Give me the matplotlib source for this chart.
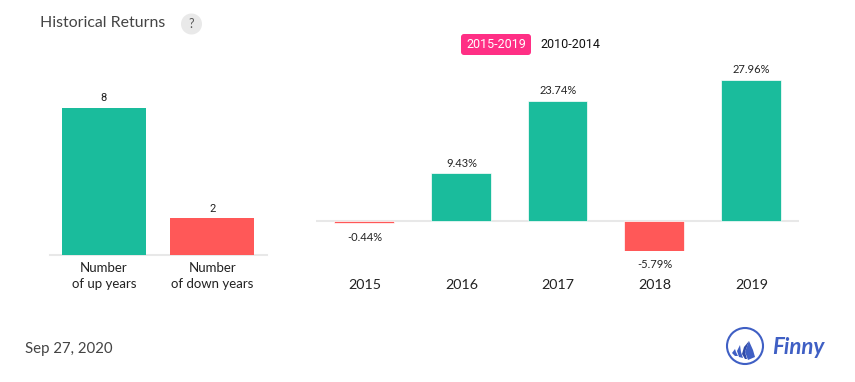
import matplotlib
matplotlib.use('Agg')
import matplotlib.pyplot as plt
from matplotlib.patches import Circle, FancyBboxPatch, Polygon

plt.rcParams['font.family'] = ['Lato', 'DejaVu Sans']

count_labels = ['Number\nof up years', 'Number\nof down years']
count_values = [8, 2]
years = ['2015', '2016', '2017', '2018', '2019']
returns = [-0.44, 9.43, 23.74, -5.79, 27.96]

GREEN = '#1abc9c'
RED = '#ff5858'
BLUE = '#3f5fc4'
W, H = 855, 382


def bar_color(v):
    return GREEN if v > 0 else RED


def make_axes(left, right, top, bottom):
    return fig.add_axes([left / W, 1 - bottom / H, (right - left) / W, (bottom - top) / H])


fig = plt.figure(figsize=(W / 100, H / 100), dpi=100)

# left panel, up and down year counts
ax1 = make_axes(49.5, 266.5, 108, 255)
ax1.bar(range(2), count_values, width=0.775, color=[GREEN, RED], zorder=3)
ax1.set_xlim(-0.5, 1.5)
ax1.set_ylim(0, 8)
ax1.set_yticks([])
ax1.set_xticks(range(2), count_labels, linespacing=1.42)
ax1.tick_params(axis='x', length=0, pad=5.2, labelsize=9.5, labelcolor='#222222')
for s in ['top', 'left', 'right']:
    ax1.spines[s].set_visible(False)
ax1.spines['bottom'].set_color('#e8e8e8')
ax1.spines['bottom'].set_linewidth(1.5)
for i, v in enumerate(count_values):
    ax1.annotate(str(v), (i, v), xytext=(0, 3.4), textcoords='offset points', ha='center',
                 va='bottom', fontsize=8, family='Roboto', color='#222222', annotation_clip=False)

# right panel, yearly returns
ax2 = make_axes(316, 799, 79.5, 250.5)
ax2.bar(range(5), returns, width=0.62, color=[bar_color(v) for v in returns],
        edgecolor='white', linewidth=0.5, zorder=3)
ax2.set_xlim(-0.5, 4.5)
ax2.set_ylim(-5.79, 27.96)
ax2.axhline(0, color='#e8e8e8', lw=1.5, zorder=1)
ax2.axis('off')
for i, v in enumerate(returns):
    off, va = (3.2, 'bottom') if v > 0 else (-6, 'top')
    ax2.annotate(f'{v:.2f}%', (i, v), xytext=(0.5, off), textcoords='offset points', ha='center',
                 va=va, fontsize=8, color='#222222', annotation_clip=False)
    ax2.annotate(years[i], (i, 0), xycoords=('data', 'axes fraction'), xytext=(0.5, -25),
                 textcoords='offset points', ha='center', va='center', fontsize=10.3,
                 color='#222222', annotation_clip=False)

# page furniture in pixel coordinates
ov = fig.add_axes([0, 0, 1, 1], zorder=5)
ov.set_xlim(0, W)
ov.set_ylim(H, 0)
ov.axis('off')
ov.patch.set_alpha(0)
ov.text(40, 23, 'Historical Returns', fontsize=11.4, color='#444444', va='center')
ov.add_patch(Circle((191.5, 24), 10.5, color='#e9e9e9', lw=0))
ov.text(191.5, 24, '?', fontsize=9, color='#555555', ha='center', va='center')
ov.add_patch(FancyBboxPatch((461, 34), 70, 21, boxstyle='round,pad=0,rounding_size=3',
                            color='#ff2f85', lw=0))
ov.text(496, 44.5, '2015-2019', fontsize=9, family='Roboto', color='white', ha='center', va='center')
ov.text(570, 44.5, '2010-2014', fontsize=9, family='Roboto', color='#111111', ha='center', va='center')
ov.text(25, 349, 'Sep 27, 2020', fontsize=10.8, color='#444444', va='center')

# logo
ov.add_patch(Circle((745, 346), 18, fill=False, ec=BLUE, lw=1.5))
ov.add_patch(Polygon([(749, 341), (753, 350), (755, 357), (748, 360), (745, 352)], color=BLUE, lw=0))
ov.add_patch(Polygon([(749, 341), (744, 347), (742, 354), (745, 359), (747, 359), (745, 352)],
                     color='#2f4aa8', lw=0))
ov.add_patch(Polygon([(740, 345), (737, 351), (739, 357), (743, 358), (741, 352)], color=BLUE, lw=0))
ov.add_patch(Polygon([(735, 349), (732, 353), (735, 356), (738, 356), (736, 352)], color=BLUE, lw=0))
ov.text(772, 347, 'Finny', fontsize=16, color=BLUE, weight='bold', style='italic', va='center')

fig.savefig('out.png', dpi=100)
